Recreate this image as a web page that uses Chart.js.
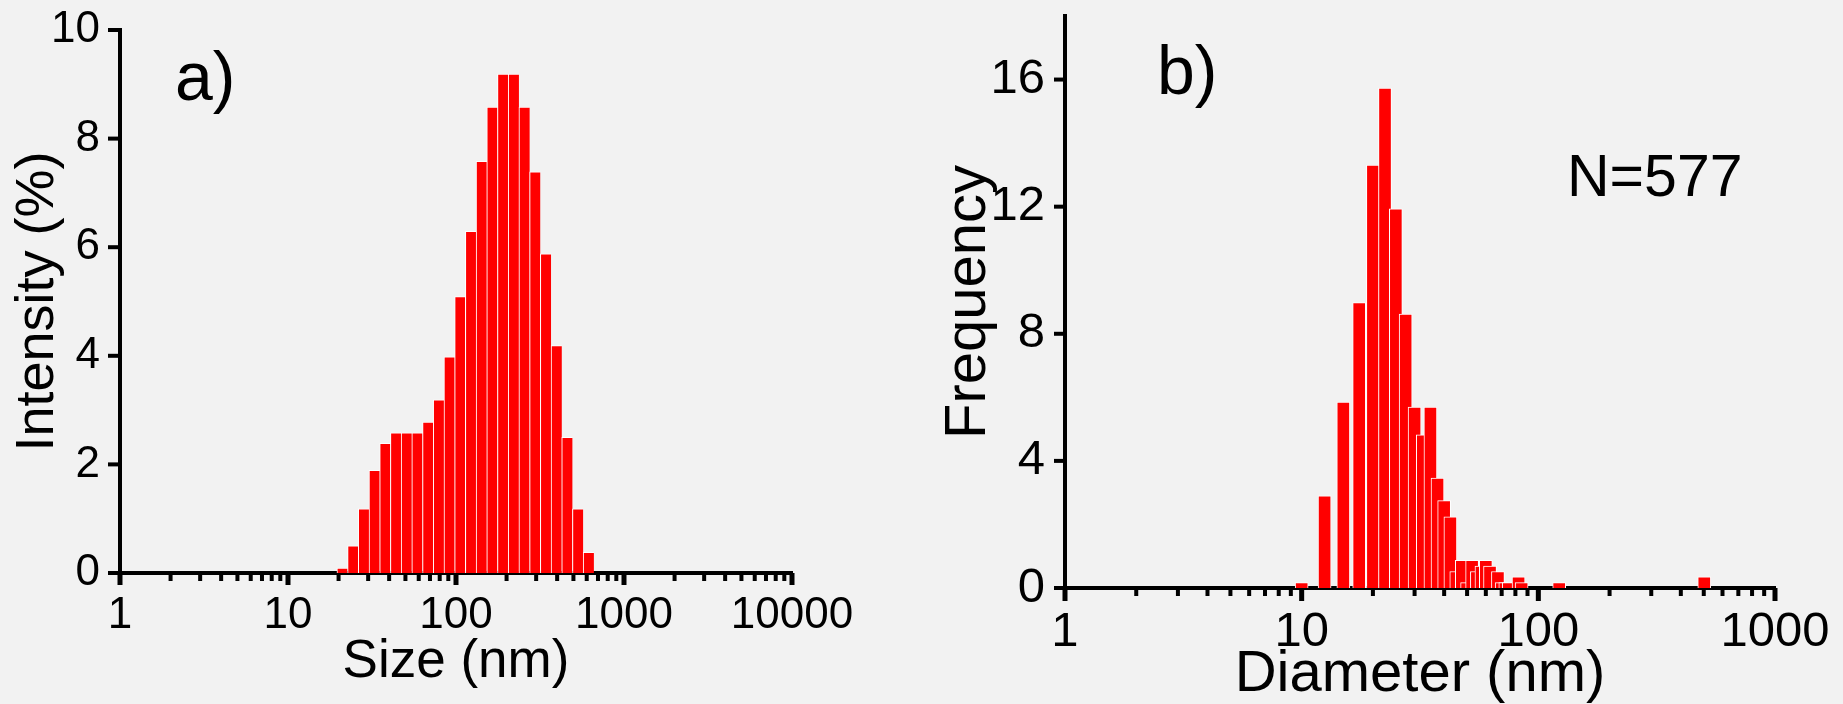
<!DOCTYPE html>
<html>
<head>
<meta charset="utf-8">
<script src="https://cdn.jsdelivr.net/npm/chart.js@4.4.1/dist/chart.umd.min.js"></script>
<style>
html, body { margin: 0; padding: 0; background: #f2f2f2; overflow: hidden; }
#chartA { position: absolute; left: 0; top: 0; }
#chartB { position: absolute; left: 900px; top: 0; }
</style>
</head>
<body>
<canvas id="chartA" width="900" height="704"></canvas>
<canvas id="chartB" width="943" height="704"></canvas>
<script>
// a) DLS intensity distribution (Zetasizer size classes, nm)
const sizes = [21.04, 24.36, 28.21, 32.67, 37.84, 43.82, 50.75, 58.77, 68.06, 78.82, 91.28, 105.7,
  122.4, 141.8, 164.2, 190.1, 220.2, 255.0, 295.3, 342.0, 396.1, 458.7, 531.2, 615.1]
const intensity = [0.09, 0.5, 1.18, 1.89, 2.39, 2.58, 2.58, 2.58, 2.78, 3.19, 3.98, 5.09,
  6.29, 7.58, 8.58, 9.19, 9.19, 8.58, 7.39, 5.88, 4.19, 2.5, 1.18, 0.38]
const sizeTicks = [1, 10, 100, 1000, 10000]
const intensityTicks = [0, 2, 4, 6, 8, 10]

// b) TEM diameter histogram, N=577
const diameters = [10, 12.5, 15, 17.5, 20, 22.5, 25, 27.5, 30, 32.5, 35, 37.5, 40, 42.5, 45, 47.5,
  50, 52.5, 55, 57.5, 60, 62.5, 67.5, 70, 72.5, 75, 82.5, 85, 122.5, 502.5]
const frequency = [0.17, 2.9, 5.85, 8.98, 13.31, 15.73, 11.93, 8.62, 5.69, 4.82, 5.69, 3.46, 2.75, 2.24, 0.52, 0.87,
  0.17, 0.87, 0.52, 0.69, 0.87, 0.69, 0.52, 0.17, 0.17, 0.17, 0.35, 0.17, 0.17, 0.35]
const diameterTicks = [1, 10, 100, 1000]
const frequencyTicks = [0, 4, 8, 12, 16]

const FONT = "'Liberation Sans', Arial, sans-serif"
Chart.defaults.font.family = FONT
Chart.defaults.color = '#000'

// outward tick marks (major + log minor) and panel notes
const axisMarks = {
  id: 'axisMarks',
  afterDraw(chart, args, o) {
    const ctx = chart.ctx, xs = chart.scales.x, ys = chart.scales.y, a = chart.chartArea
    ctx.save()
    ctx.fillStyle = '#000'
    const lo = Math.round(Math.log10(xs.min)), hi = Math.round(Math.log10(xs.max))
    for (let d = lo; d <= hi; d++) {
      const base = Math.pow(10, d)
      let px = xs.getPixelForValue(base)
      ctx.fillRect(px - 2.5, a.bottom, 5, o.majorLen)
      if (d === hi) break
      for (let k = 2; k < 10; k++) {
        px = xs.getPixelForValue(k * base)
        ctx.fillRect(px - 2, a.bottom, 4, o.minorLen)
      }
    }
    ys.ticks.forEach(t => {
      const py = ys.getPixelForValue(t.value)
      ctx.fillRect(a.left - o.yLen, py - 2, o.yLen, 4)
    })
    ctx.textBaseline = 'alphabetic'
    ctx.textAlign = 'left'
    o.notes.forEach(n => {
      ctx.font = n.size + 'px ' + FONT
      ctx.fillText(n.text, n.x, n.y)
    })
    ctx.restore()
  }
}

function makeChart(id, cfg) {
  return new Chart(document.getElementById(id), {
    type: 'bar',
    data: {
      datasets: [{
        data: cfg.xs.map((v, i) => ({ x: v, y: cfg.ys[i] })),
        backgroundColor: '#ff0000',
        borderColor: '#ffffff',
        borderWidth: cfg.border,
        borderSkipped: false,
        barThickness: cfg.barThickness,
        categoryPercentage: 1,
        barPercentage: 1
      }]
    },
    options: {
      responsive: false,
      animation: false,
      layout: { padding: cfg.padding },
      plugins: {
        legend: { display: false },
        tooltip: { enabled: false },
        axisMarks: cfg.marks
      },
      scales: {
        x: {
          type: 'logarithmic',
          min: cfg.xTicks[0],
          max: cfg.xTicks[cfg.xTicks.length - 1],
          offset: false,
          z: 1,
          grid: { display: false, drawTicks: false },
          border: { display: true, color: '#000', width: 4 },
          afterBuildTicks: s => { s.ticks = cfg.xTicks.map(v => ({ value: v })) },
          afterFit: s => { s.height = cfg.xHeight; s.paddingLeft = 0; s.paddingRight = 0 },
          ticks: { padding: cfg.xTickPad, maxRotation: 0, autoSkip: false,
            font: { size: cfg.tickSize }, callback: v => String(v) },
          title: { display: true, text: cfg.xTitle, font: { size: cfg.xTitleSize, lineHeight: 1 },
            padding: { top: 0, bottom: cfg.xTitlePad } }
        },
        y: {
          min: 0,
          max: cfg.yMax,
          z: 1,
          grid: { display: false, drawTicks: false },
          border: { display: true, color: '#000', width: 4 },
          afterBuildTicks: s => { s.ticks = cfg.yTicks.map(v => ({ value: v })) },
          afterFit: s => { s.width = cfg.yWidth; s.paddingTop = 0; s.paddingBottom = 0 },
          ticks: { padding: 20, font: { size: cfg.tickSize }, callback: v => String(v) },
          title: { display: true, text: cfg.yTitle, font: { size: cfg.yTitleSize, lineHeight: 1.2 },
            padding: { top: cfg.yTitlePad, bottom: 0 } }
        }
      }
    },
    plugins: [axisMarks]
  })
}

makeChart('chartA', {
  xs: sizes, ys: intensity, xTicks: sizeTicks, yTicks: intensityTicks, yMax: 10,
  border: { left: 1, top: 1, right: 0, bottom: 0 }, barThickness: undefined,
  padding: { left: 0, top: 30, right: 108, bottom: 0 },
  xHeight: 131, yWidth: 120, tickSize: 44, xTickPad: 16,
  xTitle: 'Size (nm)', xTitleSize: 53, xTitlePad: 15,
  yTitle: 'Intensity (%)', yTitleSize: 54, yTitlePad: 6,
  marks: { majorLen: 12, minorLen: 8, yLen: 12, notes: [{ text: 'a)', x: 175, y: 100, size: 68 }] }
})

makeChart('chartB', {
  xs: diameters, ys: frequency, xTicks: diameterTicks, yTicks: frequencyTicks, yMax: 18,
  border: { left: 1, top: 1, right: 1, bottom: 0 }, barThickness: 13,
  padding: { left: 0, top: 16, right: 68, bottom: 0 },
  xHeight: 116, yWidth: 165, tickSize: 49, xTickPad: 15,
  xTitle: 'Diameter (nm)', xTitleSize: 58, xTitlePad: 0,
  yTitle: 'Frequency', yTitleSize: 58, yTitlePad: 34,
  marks: { majorLen: 13, minorLen: 8, yLen: 11, notes: [
    { text: 'b)', x: 257, y: 94, size: 68 },
    { text: 'N=577', x: 667, y: 196, size: 59 }
  ] }
})
</script>
</body>
</html>
